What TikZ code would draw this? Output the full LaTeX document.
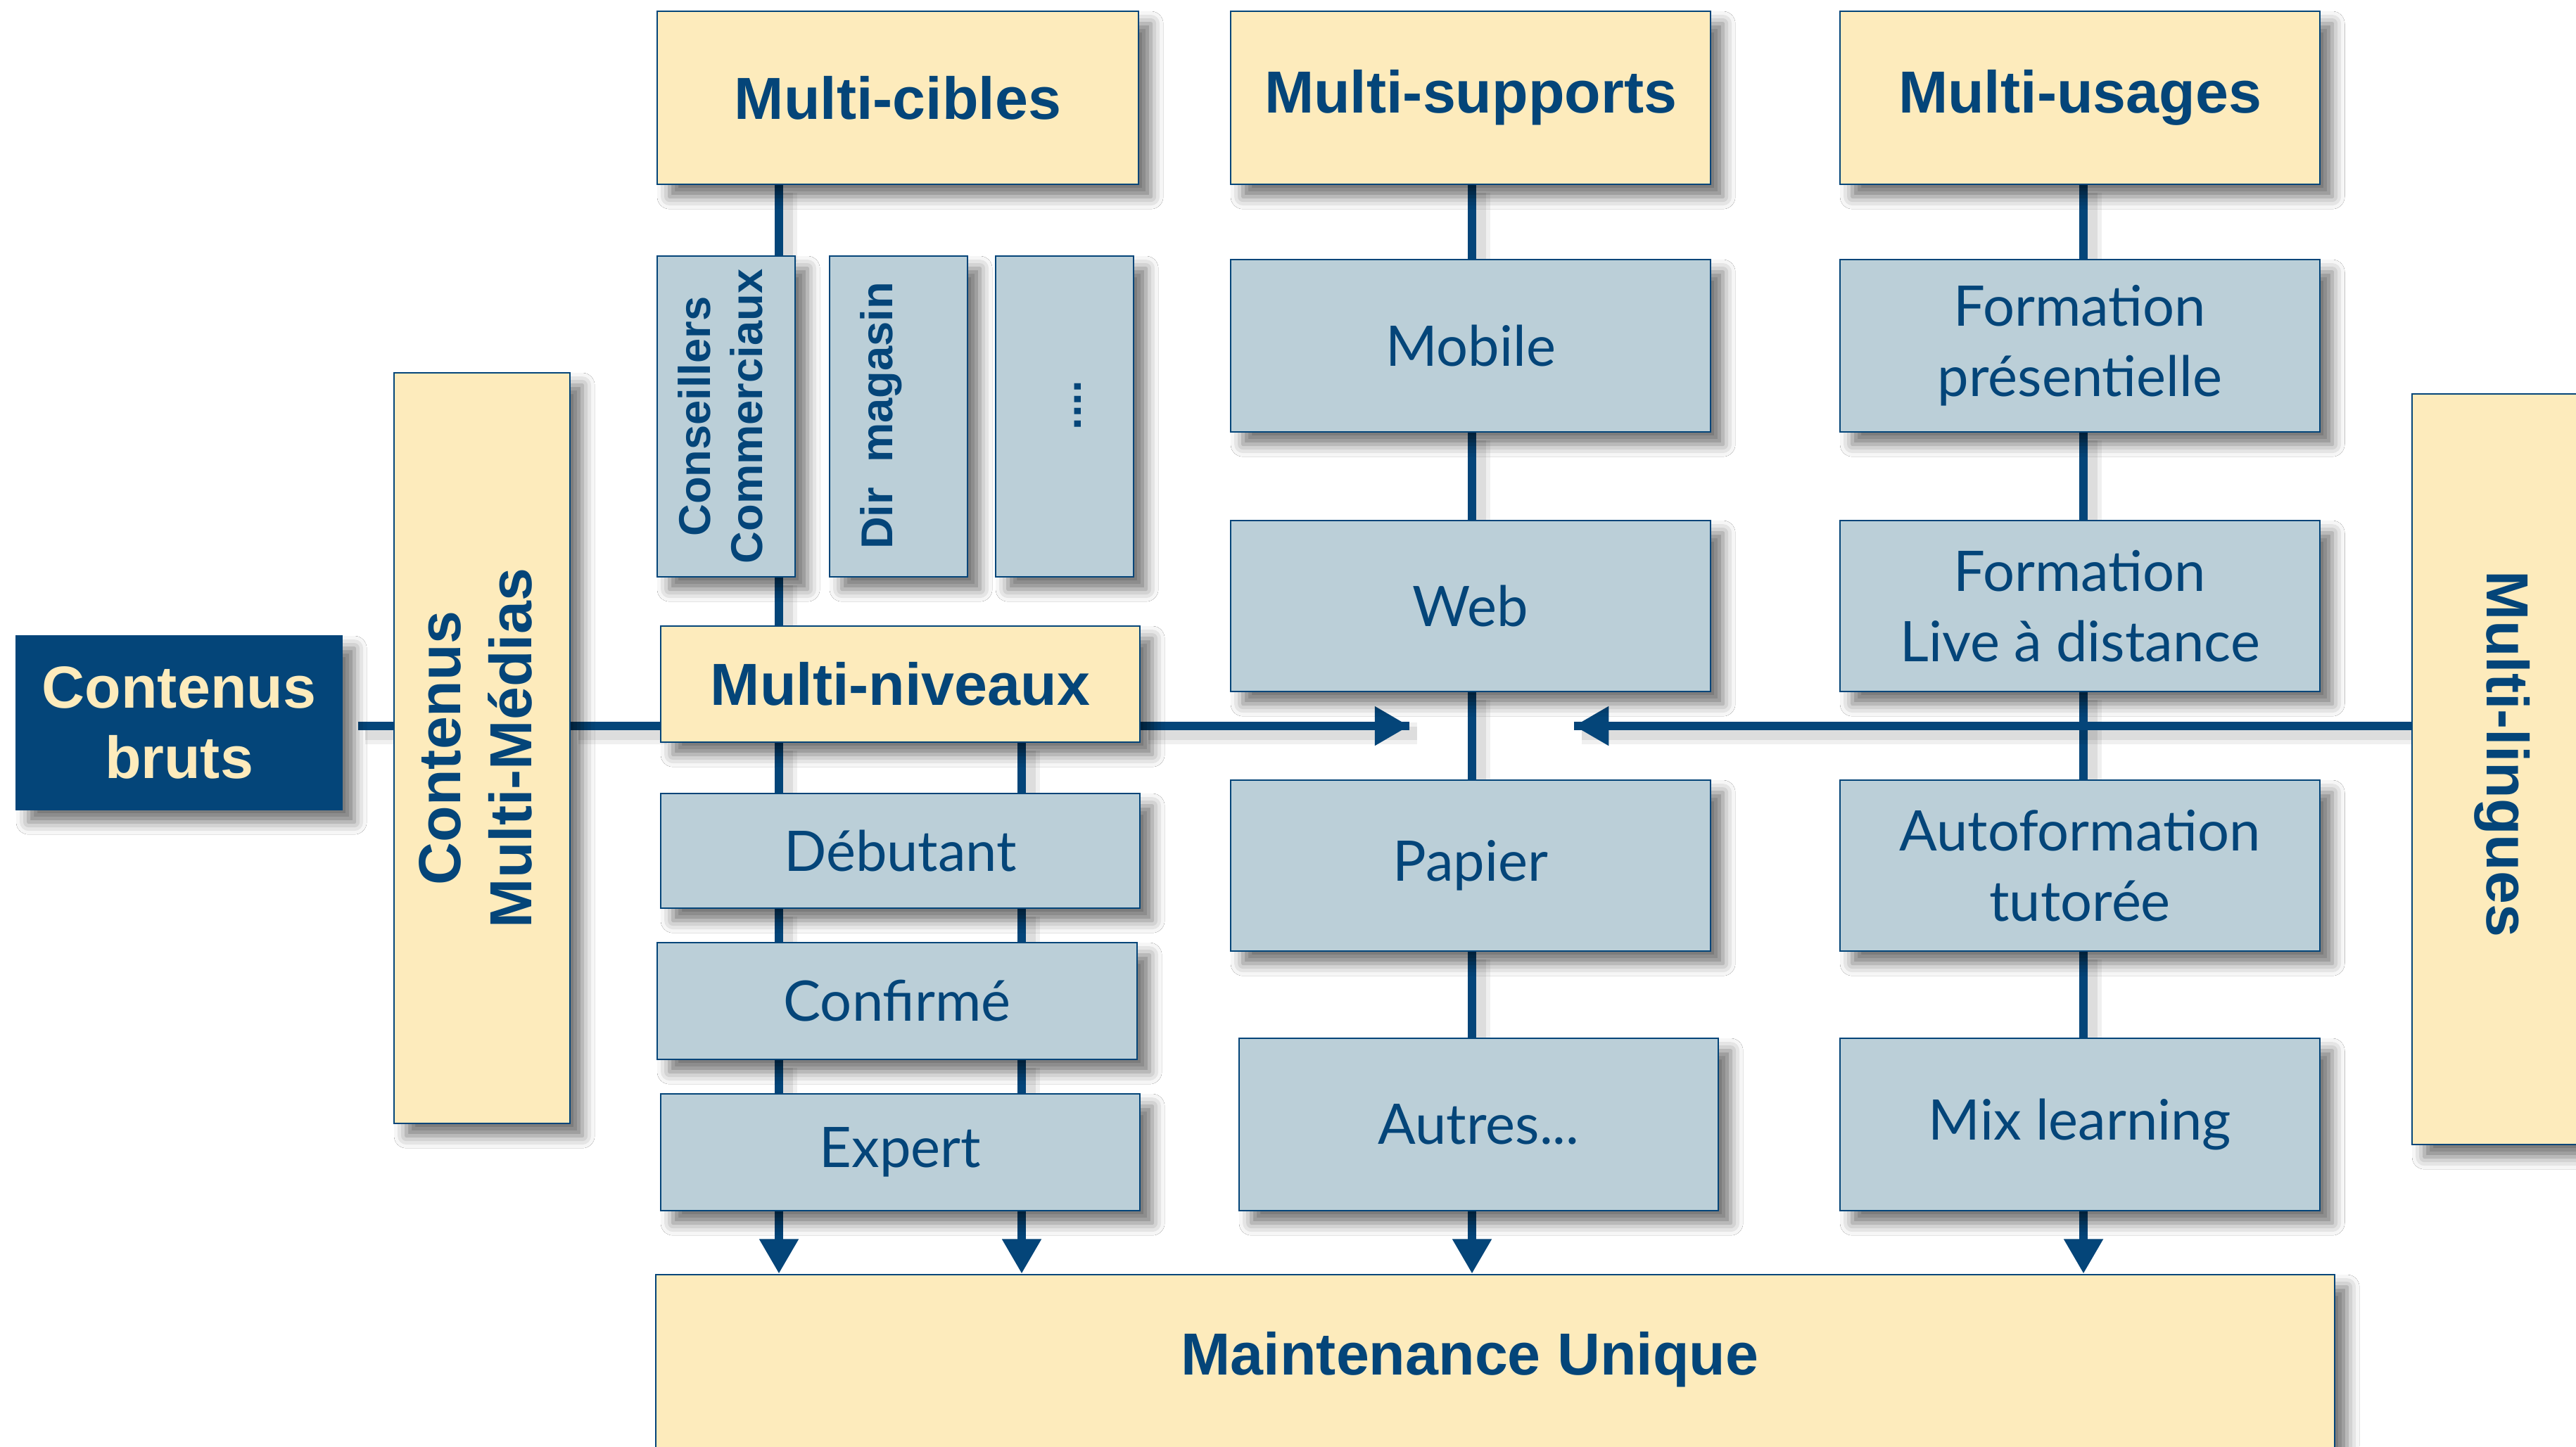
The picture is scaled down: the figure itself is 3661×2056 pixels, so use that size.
\documentclass[tikz,border=0pt]{standalone}
\usepackage{fontspec}
\usepackage{graphicx}
\usetikzlibrary{arrows.meta,shadows.blur,backgrounds}
\newfontfamily\bfont{Liberation Sans}
\newfontfamily\gfont{Lato}
\definecolor{dblue}{RGB}{4,69,121}
\definecolor{ycream}{RGB}{253,235,188}
\definecolor{bgrey}{RGB}{187,207,216}
% box: style, name, x1, y1, x2, y2, text
\newcommand\bx[7]{%
  \node[#1, minimum width={(#5-#3)*0.01cm}, minimum height={(#6-#4)*0.01cm}]
    (#2) at ({(#3+#5)/2},{(#4+#6)/2}) {#7};}
\begin{document}
\begin{tikzpicture}[x=0.01cm,y=-0.01cm,
  base/.style={draw=dblue, line width=0.8pt, inner sep=0pt, align=center, text=dblue,
     blur shadow={shadow xshift=5pt, shadow yshift=-5pt, shadow blur radius=5pt, shadow opacity=55}},
  ybox/.style={base, fill=ycream, font=\bfont\bfseries\fontsize{24}{28.5}\selectfont},
  gbox/.style={base, fill=bgrey, font=\gfont\fontsize{22.6}{28.5}\selectfont},
  cbox/.style={base, fill=bgrey, font=\bfont\bfseries\fontsize{18}{21}\selectfont},
  dbox/.style={base, fill=dblue, text=ycream, font=\bfont\bfseries\fontsize{24}{28.5}\selectfont},
  ytext/.style={inner sep=0pt, text=dblue, font=\bfont\bfseries\fontsize{24}{28.5}\selectfont},
  ctext/.style={inner sep=0pt, text=dblue, font=\bfont\bfseries\fontsize{18}{21}\selectfont},
  conn/.style={draw=dblue, line width=3.4pt,
     preaction={draw=black, draw opacity=0.06, line width=9pt, transform canvas={xshift=3pt,yshift=-3pt}},
     preaction={draw=black, draw opacity=0.08, line width=5.5pt, transform canvas={xshift=3pt,yshift=-3pt}}},
  arr/.style={draw=dblue, line width=3.4pt, -{Triangle[length=14pt,width=15pt]}},
]
\useasboundingbox (0,0) rectangle (3661,2056);

% top row
\bx{ybox}{mc}{934}{16}{1618}{262}{Multi-cibles}
\bx{ybox}{ms}{1749}{16}{2431}{262}{Multi-supports}
\bx{ybox}{mu}{2615}{16}{3297}{262}{Multi-usages}

% left side
\bx{dbox}{cb}{23}{904}{486}{1151}{Contenus\\bruts}
\bx{ybox}{cmm}{560}{530}{810}{1597}{\rotatebox{90}{\begin{tabular}{@{}c@{}}Contenus\\Multi-Médias\end{tabular}}}

% column 1
\bx{cbox}{cons}{934}{364}{1130}{820}{\rotatebox{90}{\begin{tabular}{@{}c@{}}Conseillers\\Commerciaux\end{tabular}}}
\bx{cbox}{dir}{1179}{364}{1375}{820}{}
\node[ctext] (dirt) at (1252,591) {\rotatebox{90}{Dir\ \ magasin}};
\bx{cbox}{etc}{1415}{364}{1611}{820}{}
\node[ctext] (etct) at (1532,576) {\rotatebox{90}{....}};
\bx{ybox}{mn}{939}{890}{1620}{1055}{Multi-niveaux}
\bx{gbox}{deb}{939}{1128}{1620}{1291}{Débutant}
\bx{gbox}{conf}{934}{1340}{1616}{1506}{Confirmé}
\bx{gbox}{exp}{939}{1555}{1620}{1721}{Expert}

% column 2
\bx{gbox}{mob}{1749}{369}{2431}{614}{Mobile}
\bx{gbox}{web}{1749}{740}{2431}{983}{Web}
\bx{gbox}{pap}{1749}{1109}{2431}{1352}{Papier}
\bx{gbox}{aut}{1761}{1476}{2442}{1721}{Autres...}

% column 3
\bx{gbox}{fp}{2615}{369}{3297}{614}{Formation\\présentielle}
\bx{gbox}{fl}{2615}{740}{3297}{983}{Formation\\Live à distance}
\bx{gbox}{af}{2615}{1109}{3297}{1352}{Autoformation\\tutorée}
\bx{gbox}{mix}{2615}{1476}{3297}{1721}{Mix learning}

% right and bottom
\bx{ybox}{ml}{3428}{560}{3680}{1627}{}
\node[ytext] (mlt) at (3556,1072) {\rotatebox{-90}{Multi-lingues}};
\bx{ybox}{maint}{932}{1812}{3318}{2060}{}
\node[ytext] (maintt) at (2089,1933) {Maintenance Unique};

\begin{pgfonlayer}{background}
  \fill[white] (0,0) rectangle (3661,2056);
  \coordinate (xa) at (1107,0);
  \coordinate (xb) at (1452,0);
  \coordinate (xc) at (2092,0);
  \coordinate (xd) at (2961,0);
  \coordinate (yh) at (0,1032);
  \coordinate (tipL) at (2003,1032);
  \coordinate (tipR) at (2237,1032);
  % column 1
  \draw[conn] (mc.south -| xa) -- (cons.north -| xa)
              (cons.south -| xa) -- (mn.north -| xa)
              (mn.south -| xa) -- (deb.north -| xa)
              (deb.south -| xa) -- (conf.north -| xa)
              (conf.south -| xa) -- (exp.north -| xa);
  \draw[conn] (mn.south -| xb) -- (deb.north -| xb)
              (deb.south -| xb) -- (conf.north -| xb)
              (conf.south -| xb) -- (exp.north -| xb);
  % column 2
  \draw[conn] (ms.south -| xc) -- (mob.north -| xc)
              (mob.south -| xc) -- (web.north -| xc)
              (web.south -| xc) -- (pap.north -| xc)
              (pap.south -| xc) -- (aut.north -| xc);
  % column 3
  \draw[conn] (mu.south -| xd) -- (fp.north -| xd)
              (fp.south -| xd) -- (fl.north -| xd)
              (fl.south -| xd) -- (af.north -| xd)
              (af.south -| xd) -- (mix.north -| xd);
  % horizontal
  \draw[conn, shorten <=6pt] (cb.east |- yh) -- (cmm.west |- yh);
  \draw[conn] (cmm.east |- yh) -- (mn.west |- yh);
  \draw[conn] (mn.east |- yh) -- (tipL);
  \draw[conn] (ml.west |- yh) -- (tipR);
  % arrows
  \draw[arr] (exp.south -| xa) -- (maint.north -| xa);
  \draw[arr] (exp.south -| xb) -- (maint.north -| xb);
  \draw[arr] (aut.south -| xc) -- (maint.north -| xc);
  \draw[arr] (mix.south -| xd) -- (maint.north -| xd);
  \draw[arr] (mn.east |- yh) -- (tipL);
  \draw[arr] (ml.west |- yh) -- (tipR);
\end{pgfonlayer}
\end{tikzpicture}
\end{document}
